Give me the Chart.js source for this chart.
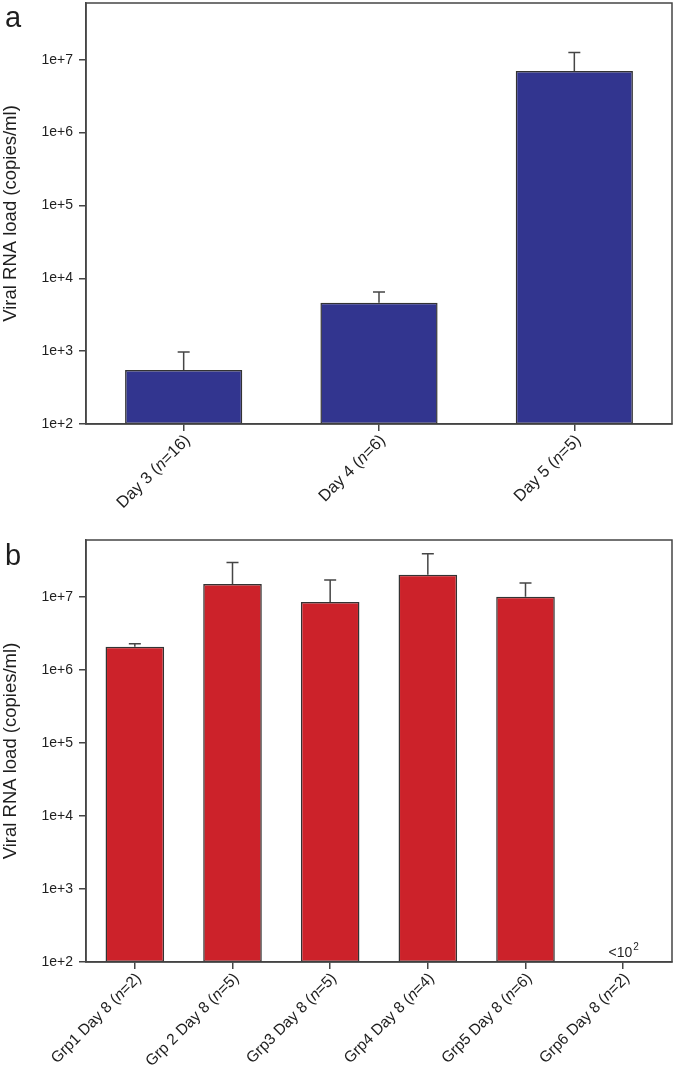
<!DOCTYPE html>
<html>
<head>
<meta charset="utf-8">
<script src="https://cdn.jsdelivr.net/npm/chart.js@4"></script>
<style>
  body { margin: 0; background: #fff; }
  canvas { display: block; }
</style>
</head>
<body>
<canvas id="chartA" width="675" height="530"></canvas>
<canvas id="chartB" width="675" height="544"></canvas>
<script>
// panel a
var dayLabels = ['Day 3 (n=16)', 'Day 4 (n=6)', 'Day 5 (n=5)'];
var dayMeans = [550, 4600, 7.0e6];
var dayErrTop = [975, 6500, 1.26e7];

// panel b
var grpLabels = ['Grp1 Day 8 (n=2)', 'Grp 2 Day 8 (n=5)', 'Grp3 Day 8 (n=5)',
                 'Grp4 Day 8 (n=4)', 'Grp5 Day 8 (n=6)', 'Grp6 Day 8 (n=2)'];
var grpMeans = [2.07e6, 1.5e7, 8.5e6, 2.0e7, 1.0e7, null];
var grpErrTop = [2.27e6, 2.95e7, 1.7e7, 3.9e7, 1.55e7, null];
var grpNote = ['', '', '', '', '', '<10|2'];

// y axis
var yTickValues = [1e2, 1e3, 1e4, 1e5, 1e6, 1e7];
var yTickLabels = ['1e+2', '1e+3', '1e+4', '1e+5', '1e+6', '1e+7'];
var yMin = 1e2;
var yMax = 6.0e7;

var FONT = "'Liberation Sans', Arial, sans-serif";
var LINE = '#454545';
var TEXT = '#1e1e1e';

// error bars, frame, rotated labels with italic n, panel letter
function extrasPlugin(letter, errTop, notes, labelSize) {
	return {
		id: 'extras',
		afterDatasetsDraw: function(chart) {
			var ctx = chart.ctx;
			var meta = chart.getDatasetMeta(0);
			var ys = chart.scales.y;
			ctx.save();
			ctx.strokeStyle = LINE;
			ctx.lineWidth = 1.5;
			for (var i = 0; i < errTop.length; i++) {
				if (errTop[i] == null) continue;
				var bar = meta.data[i];
				var yt = ys.getPixelForValue(errTop[i]);
				ctx.beginPath();
				ctx.moveTo(bar.x, bar.y);
				ctx.lineTo(bar.x, yt);
				ctx.moveTo(bar.x - 6, yt);
				ctx.lineTo(bar.x + 6, yt);
				ctx.stroke();
			}
			ctx.restore();
		},
		afterDraw: function(chart) {
			var ctx = chart.ctx;
			var a = chart.chartArea;
			var xs = chart.scales.x;
			ctx.save();
			// frame
			ctx.strokeStyle = LINE;
			ctx.lineWidth = 1.5;
			ctx.strokeRect(a.left, a.top, a.right - a.left, a.bottom - a.top);

			// panel letter
			ctx.fillStyle = TEXT;
			ctx.font = '29px ' + FONT;
			ctx.textAlign = 'left';
			ctx.textBaseline = 'alphabetic';
			ctx.fillText(letter, 5, letter == 'a' ? 27 : 35);

			// x labels
			var labels = chart.data.labels;
			var f = labelSize + 'px ' + FONT;
			for (var i = 0; i < labels.length; i++) {
				var x = xs.getPixelForTick(i);
				var parts = labels[i].split('n=');
				var pieces = [
					[parts[0], f],
					['n', 'italic ' + f],
					['=' + parts[1], f]
				];
				var total = 0;
				pieces.forEach(function(p) { ctx.font = p[1]; total += ctx.measureText(p[0]).width; });
				ctx.save();
				ctx.translate(x + 4, a.bottom + 14);
				ctx.rotate(-Math.PI / 4);
				ctx.textAlign = 'left';
				ctx.textBaseline = 'middle';
				var px = -total;
				pieces.forEach(function(p) {
					ctx.font = p[1];
					ctx.fillText(p[0], px, 0);
					px += ctx.measureText(p[0]).width;
				});
				ctx.restore();
			}

			// notes such as <10^2
			for (var j = 0; j < notes.length; j++) {
				if (!notes[j]) continue;
				var n = notes[j].split('|');
				var cx = xs.getPixelForTick(j);
				ctx.font = '14px ' + FONT;
				var w1 = ctx.measureText(n[0]).width;
				ctx.font = '10px ' + FONT;
				var w2 = ctx.measureText(n[1]).width;
				var sx = cx - (w1 + w2) / 2;
				ctx.textAlign = 'left';
				ctx.textBaseline = 'alphabetic';
				ctx.font = '14px ' + FONT;
				ctx.fillText(n[0], sx, a.bottom - 5);
				ctx.font = '10px ' + FONT;
				ctx.fillText(n[1], sx + w1 + 1, a.bottom - 12);
			}
			ctx.restore();
		}
	};
}

function make_chart(id, labels, values, errTop, notes, color, letter, padTop, xHeight, labelSize) {
	var ctx = document.getElementById(id).getContext('2d');
	return new Chart(ctx, {
		type: 'bar',
		data: {
			labels: labels,
			datasets: [{
				data: values,
				backgroundColor: color,
				borderColor: '#333333',
				borderWidth: 1.5,
				borderSkipped: false,
				barPercentage: 0.6,
				categoryPercentage: 1.0
			}]
		},
		options: {
			responsive: false,
			animation: false,
			devicePixelRatio: 1,
			layout: { padding: { top: padTop, right: 3, left: 0, bottom: 0 } },
			plugins: { legend: { display: false }, tooltip: { enabled: false } },
			scales: {
				x: {
					type: 'category',
					offset: true,
					grid: { offset: false, drawOnChartArea: false, tickLength: 7, color: LINE, lineWidth: 1.5 },
					border: { color: LINE, width: 1.5 },
					ticks: { display: false },
					afterFit: function(s) { s.height = xHeight; }
				},
				y: {
					type: 'logarithmic',
					min: yMin,
					max: yMax,
					afterBuildTicks: function(s) {
						s.ticks = yTickValues.map(function(v) { return { value: v }; });
					},
					ticks: {
						autoSkip: false,
						padding: 6,
						color: TEXT,
						font: { family: FONT, size: 14 },
						callback: function(v) {
							var k = yTickValues.indexOf(v);
							return k >= 0 ? yTickLabels[k] : '';
						}
					},
					grid: { drawOnChartArea: false, tickLength: 7, color: LINE, lineWidth: 1.5 },
					border: { color: LINE, width: 1.5 },
					title: {
						display: true,
						text: 'Viral RNA load (copies/ml)',
						color: TEXT,
						font: { family: FONT, size: 18.5 },
						padding: 0
					},
					afterFit: function(s) {
						s.width = 86;
						s.paddingTop = 0;
						s.paddingBottom = 0;
					}
				}
			}
		},
		plugins: [extrasPlugin(letter, errTop, notes, labelSize)]
	});
}

make_chart('chartA', dayLabels, dayMeans, dayErrTop, ['', '', ''], '#32358f', 'a', 3, 106, 16.5);
make_chart('chartB', grpLabels, grpMeans, grpErrTop, grpNote, '#cc222a', 'b', 10, 112, 15.5);
</script>
</body>
</html>
